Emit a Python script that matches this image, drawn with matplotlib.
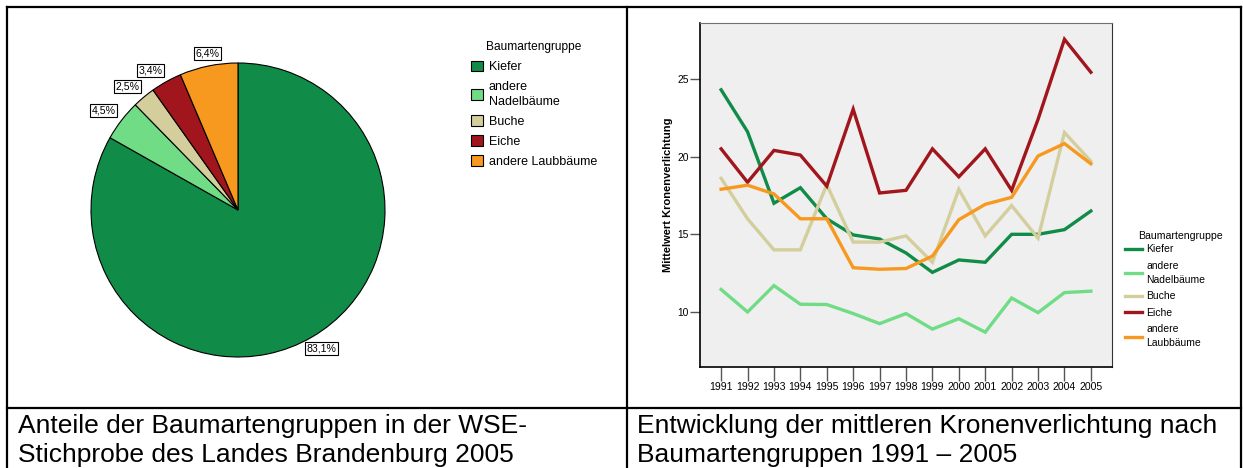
import numpy as np
import matplotlib
matplotlib.use('Agg')
from matplotlib import pyplot as plt
from matplotlib.lines import Line2D

plt.rcParams['font.family'] = ['Liberation Sans', 'DejaVu Sans']

# data
groups = ['Kiefer', 'andere\nNadelbäume', 'Buche', 'Eiche', 'andere Laubbäume']
line_groups = ['Kiefer', 'andere\nNadelbäume', 'Buche', 'Eiche', 'andere\nLaubbäume']
colors = ['#118C48', '#70DC86', '#D3CE9C', '#A0161C', '#F7991E']
shares = [83.1, 4.5, 2.5, 3.4, 6.4]
share_labels = ['83,1%', '4,5%', '2,5%', '3,4%', '6,4%']

years = list(range(1991, 2006))
kiefer = [24.3, 21.6, 17.0, 18.0, 16.0, 14.96, 14.7, 13.8, 12.55, 13.35, 13.2, 15.0, 15.0, 15.3, 16.5]
nadel = [11.45, 10.0, 11.7, 10.5, 10.48, 9.9, 9.25, 9.9, 8.9, 9.57, 8.7, 10.9, 9.96, 11.25, 11.34]
buche = [18.6, 16.0, 14.0, 14.0, 18.2, 14.5, 14.5, 14.9, 13.2, 17.9, 14.9, 16.85, 14.75, 21.55, 19.7]
eiche = [20.5, 18.35, 20.4, 20.1, 18.1, 23.05, 17.66, 17.83, 20.5, 18.7, 20.5, 17.83, 22.4, 27.55, 25.43]
laub = [17.9, 18.16, 17.6, 16.0, 16.0, 12.85, 12.75, 12.8, 13.6, 15.94, 16.93, 17.38, 20.04, 20.84, 19.54]
series = [kiefer, nadel, buche, eiche, laub]

caption_left = ['Anteile der Baumartengruppen in der WSE-', 'Stichprobe des Landes Brandenburg 2005']
caption_right = ['Entwicklung der mittleren Kronenverlichtung nach', 'Baumartengruppen 1991 – 2005']

W, H = 1243, 468
fig = plt.figure(figsize=(W / 100, H / 100), dpi=100)


def rect(left, top, right, bottom):
    return [left / W, 1 - bottom / H, (right - left) / W, (bottom - top) / H]


def hline(y, x0, x1):
    fig.add_artist(Line2D([x0 / W, x1 / W], [1 - y / H, 1 - y / H], color='k', lw=1.6))


def vline(x, y0, y1):
    fig.add_artist(Line2D([x / W, x / W], [1 - y0 / H, 1 - y1 / H], color='k', lw=1.6))


# table grid
hline(7, 7, 1241)
hline(408, 7, 1241)
vline(7, 7, H)
vline(627, 7, H)
vline(1241, 7, H)

# pie
ax1 = fig.add_axes(rect(91, 63, 385, 357))
wedges, _ = ax1.pie(shares, colors=colors, startangle=90, counterclock=False,
                    wedgeprops={'edgecolor': 'k', 'linewidth': 0.8})
ax1.set_xlim(-1, 1)
ax1.set_ylim(-1, 1)
for w, lab in zip(wedges, share_labels):
    ang = np.deg2rad((w.theta1 + w.theta2) / 2)
    x, y = 1.05 * np.cos(ang), 1.05 * np.sin(ang)
    if abs(np.cos(ang)) < 0.3:
        ha = 'center'
    elif np.cos(ang) > 0:
        ha = 'left'
        x -= 0.06
    else:
        ha = 'right'
    va = 'bottom' if np.sin(ang) > 0 else 'top'
    ax1.text(x, y, lab, ha=ha, va=va, fontsize=7.6,
             bbox=dict(boxstyle='square,pad=0.15', fc='white', ec='k', lw=0.8))

leg1 = fig.legend(wedges, groups, title='Baumartengruppe', loc='upper left',
                  bbox_to_anchor=(460 / W, 1 - 30 / H), frameon=False, fontsize=9,
                  title_fontsize=8.6, handlelength=0.9, handleheight=0.9,
                  handletextpad=0.5, labelspacing=0.6, alignment='center')
for t in leg1.get_texts():
    t.set_linespacing(1.35)

# line chart
ax2 = fig.add_axes(rect(700, 23, 1112, 367))
ax2.set_facecolor('#EFEFEF')
for vals, name, c in zip(series, line_groups, colors):
    ax2.plot(years, vals, color=c, lw=2.4, label=name, solid_joinstyle='miter')
ax2.set_xlim(1990.2, 2005.8)
ax2.set_ylim(6.46, 28.6)
ax2.set_xticks(years)
ax2.set_yticks([10, 15, 20, 25])
ax2.tick_params(axis='x', length=10, width=1, color='#555555', labelsize=7.6, pad=1)
ax2.tick_params(axis='y', length=7, width=1, color='#555555', labelsize=7.4, pad=1)
ax2.set_ylabel('Mittelwert Kronenverlichtung', fontsize=8, fontweight='bold', labelpad=3)
for s in ['left', 'bottom']:
    ax2.spines[s].set_color('k')
    ax2.spines[s].set_linewidth(1.2)
ax2.spines['top'].set_color('#707070')
ax2.spines['right'].set_color('#333333')

fig.text(1138 / W, 1 - 236 / H, 'Baumartengruppe', fontsize=7.6, va='center', ha='left')
leg2 = fig.legend(*ax2.get_legend_handles_labels(), loc='upper left',
                  bbox_to_anchor=(1116 / W, 1 - 235 / H), frameon=False, fontsize=7.5,
                  handlelength=1.6, handletextpad=0.4, labelspacing=0.62)
for t in leg2.get_texts():
    t.set_linespacing(1.5)

# captions
for i, (l, r) in enumerate(zip(caption_left, caption_right)):
    fig.text(18 / W, 1 - (433 + 29 * i) / H, l, fontsize=19, va='baseline', ha='left')
    fig.text(637 / W, 1 - (433 + 29 * i) / H, r, fontsize=19, va='baseline', ha='left')

fig.savefig('out.png', dpi=100)
